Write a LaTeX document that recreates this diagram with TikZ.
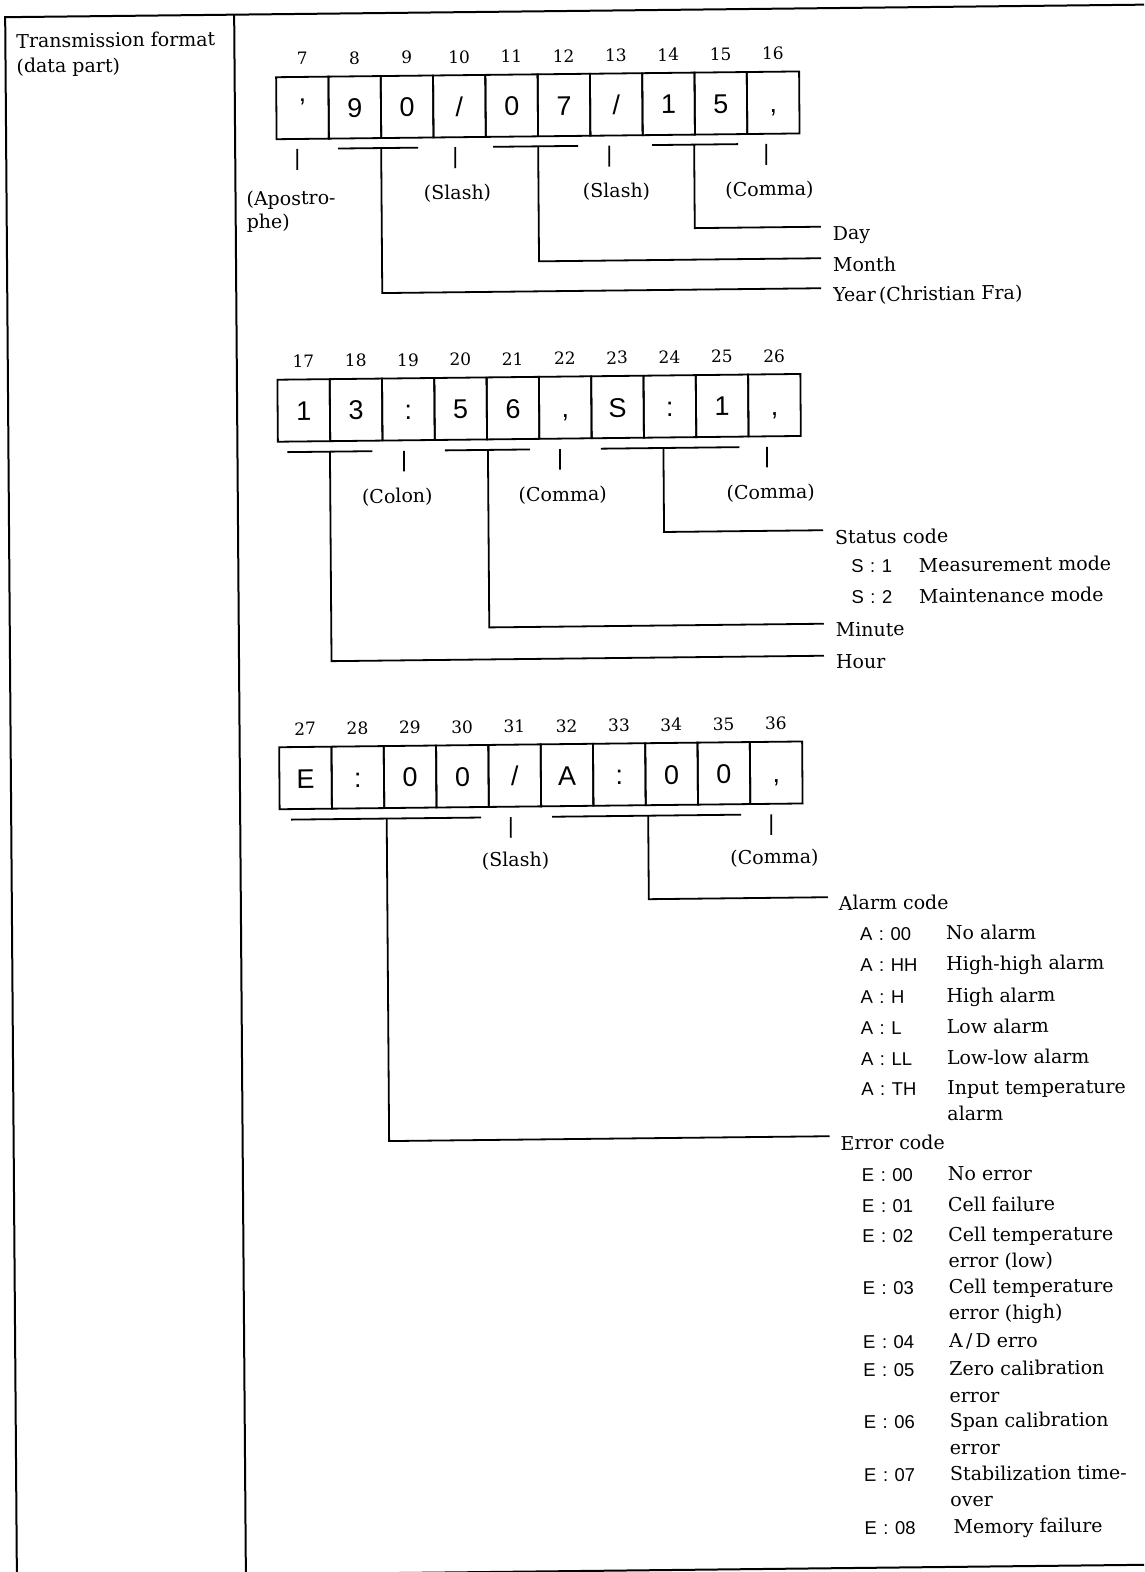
\documentclass[tikz,border=0pt]{standalone}
\usepackage{fontspec}
\setmainfont{DejaVu Serif}
\newfontfamily\sansbox{Liberation Sans}
\newcommand\cd[2]{{\sansbox\fontsize{18.5}{20}\selectfont #1\hspace{6.5pt}:\hspace{6.5pt}#2}}
\begin{document}
\begin{tikzpicture}[x=1pt,y=-1pt,
  every node/.style={inner sep=0pt, outer sep=0pt},
  body/.style={font=\fontsize{19}{24}\selectfont},
  lbl/.style={body, anchor=base},
  lft/.style={body, anchor=base west},
  posn/.style={font=\fontsize{17}{20}\selectfont, anchor=base},
  cell/.style={draw, line width=1.8pt, minimum width=52.3pt, minimum height=62pt, anchor=north west},
  ch/.style={font=\sansbox\fontsize{27}{30}\selectfont, anchor=base},
  cde/.style={anchor=base west},
  ln/.style={line width=1.8pt},
  frm/.style={line width=2pt},
]
\useasboundingbox (0,0) rectangle (1144,1572);
\clip (0,0) rectangle (1144,1572);
\begin{scope}[xshift=-5.9pt, yshift=-6.3pt, xslant=-0.0075, yslant=0.011,
  every node/.append style={transform shape}]
% frame
\coordinate (TL) at (11,11); \coordinate (TR) at (1175,11);
\coordinate (BL) at (11,1595);
\coordinate (MT) at (240,11); \coordinate (MB) at (240,1595);
\coordinate (BotL) at (388,1571); \coordinate (BotR) at (1175,1571);
\draw[frm] (BL) -- (TL) -- (TR);
\draw[frm] (MT) -- (MB);
\draw[frm] (BotL) -- (BotR);
\node[lft] (title1) at (22,42) {Transmission format};
\node[lft] (title2) at (22,67) {(data part)};

% ---------- row 1 ----------
\foreach \n/\c [count=\k from 0] in {7/{’},8/9,9/0,10/{/},11/0,12/7,13/{/},14/1,15/5,16/{,}} {
  \node[cell] (c\n) at ({281.5+52.3*\k},74) {};
  \node[posn] (n\n) at ({281.5+52.3*(\k+0.5)},62) {\n};
  \node[ch] (t\n) at ({281.5+52.3*(\k+0.5)},115) {\c};
}
\foreach \nm/\a/\b in {b89/343/423, b1112/498/583, b1415/657/743}{
  \coordinate (\nm-L) at (\a,146); \coordinate (\nm-R) at (\b,146);
  \draw[ln] (\nm-L) -- (\nm-R);
}
\foreach \nm/\x in {k7/302, k10/460, k13/614, k16/771}{
  \coordinate (\nm-T) at (\x,146); \coordinate (\nm-B) at (\x,167);
  \draw[ln] (\nm-T) -- (\nm-B);
}
\node[body, anchor=base west] (apo1) at (251,202) {(Apostro-};
\node[body, anchor=base west] (apo2) at (251,225) {phe)};
\node[lbl] (sl1) at (462,198) {(Slash)};
\node[lbl] (sl2) at (621,198) {(Slash)};
\node[lbl] (cm1) at (774,198) {(Comma)};
\coordinate (dayV) at (699,146); \coordinate (dayE) at (825,229.5);
\coordinate (monV) at (543,146); \coordinate (monE) at (825,261);
\coordinate (yeaV) at (386,146); \coordinate (yeaE) at (825,291);
\draw[ln] (dayV) |- (dayE);
\draw[ln] (monV) |- (monE);
\draw[ln] (yeaV) |- (yeaE);
\node[lft] (day) at (837,243) {Day};
\node[lft] (month) at (837,274.5) {Month};
\node[lft] (year) at (837,304.5) {Year\,(Christian Fra)};

% ---------- row 2 ----------
\foreach \n/\c [count=\k from 0] in {17/1,18/3,19/:,20/5,21/6,22/{,},23/S,24/:,25/1,26/{,}} {
  \node[cell] (c\n) at ({280.5+52.3*\k},376.5) {};
  \node[posn] (n\n) at ({280.5+52.3*(\k+0.5)},364.5) {\n};
  \node[ch] (t\n) at ({280.5+52.3*(\k+0.5)},417.5) {\c};
}
\foreach \nm/\a/\b in {b1718/290/375, b2021/447.5/532.5, b2325/603.5/742}{
  \coordinate (\nm-L) at (\a,449); \coordinate (\nm-R) at (\b,449);
  \draw[ln] (\nm-L) -- (\nm-R);
}
\foreach \nm/\x in {k19/406.5, k22/562.5, k26/769.5}{
  \coordinate (\nm-T) at (\x,449); \coordinate (\nm-B) at (\x,469.5);
  \draw[ln] (\nm-T) -- (\nm-B);
}
\node[lbl] (colon) at (399.5,501) {(Colon)};
\node[lbl] (cm2) at (565,501) {(Comma)};
\node[lbl] (cm3) at (773,501) {(Comma)};
\coordinate (staV) at (666,449); \coordinate (staE) at (825,533);
\coordinate (minV) at (490.5,449); \coordinate (minE) at (825,626.5);
\coordinate (houV) at (332.5,449); \coordinate (houE) at (825,658.5);
\draw[ln] (staV) |- (staE);
\draw[ln] (minV) |- (minE);
\draw[ln] (houV) |- (houE);
\node[lft] (status) at (837,547) {Status code};
\node[cde] (s1c) at (853,576) {\cd{S}{1}};
\node[lft] (s1d) at (920.5,576) {Measurement mode};
\node[cde] (s2c) at (853,607) {\cd{S}{2}};
\node[lft] (s2d) at (920.5,607) {Maintenance mode};
\node[lft] (minute) at (837,639.5) {Minute};
\node[lft] (hour) at (837,671.5) {Hour};

% ---------- row 3 ----------
\foreach \n/\c [count=\k from 0] in {27/E,28/:,29/0,30/0,31/{/},32/A,33/:,34/0,35/0,36/{,}} {
  \node[cell] (c\n) at ({279.5+52.3*\k},744) {};
  \node[posn] (n\n) at ({279.5+52.3*(\k+0.5)},732) {\n};
  \node[ch] (t\n) at ({279.5+52.3*(\k+0.5)},785) {\c};
}
\foreach \nm/\a/\b in {b2730/291/481, b3235/552/741}{
  \coordinate (\nm-L) at (\a,816.5); \coordinate (\nm-R) at (\b,816.5);
  \draw[ln] (\nm-L) -- (\nm-R);
}
\foreach \nm/\x in {k31/510.5, k36/771}{
  \coordinate (\nm-T) at (\x,816.5); \coordinate (\nm-B) at (\x,837);
  \draw[ln] (\nm-T) -- (\nm-B);
}
\node[lbl] (sl3) at (515,866) {(Slash)};
\node[lbl] (cm4) at (774,866) {(Comma)};
\coordinate (alaV) at (648,816.5); \coordinate (alaE) at (827,900);
\coordinate (errV) at (386.5,816.5); \coordinate (errE) at (827,1139);
\draw[ln] (alaV) |- (alaE);
\draw[ln] (errV) |- (errE);
\node[lft] (alarm) at (838,913) {Alarm code};
\foreach \c/\d/\y [count=\i] in {00/{No alarm}/944, HH/{High-high alarm}/975, H/{High alarm}/1007,
    L/{Low alarm}/1038, LL/{Low-low alarm}/1069, TH/{Input temperature}/1099}{
  \node[cde] (ac\i) at (859,\y) {\cd{A}{\c}};
  \node[lft] (ad\i) at (945,\y) {\d};
}
\node[lft] (ad6b) at (945,1125) {alarm};
\node[lft] (error) at (838,1153) {Error code};
\foreach \c/\d/\y [count=\i] in {00/{No error}/1185, 01/{Cell failure}/1216, 02/{Cell temperature}/1246,
    03/{Cell temperature}/1298, 04/{A\,/\,D erro}/1352, 05/{Zero calibration}/1380,
    06/{Span calibration}/1432, 07/{Stabilization time-}/1485}{
  \node[cde] (ec\i) at (859,\y) {\cd{E}{\c}};
  \node[lft] (ed\i) at (945,\y) {\d};
}
\node[lft] (ed3b) at (945,1272) {error (low)};
\node[lft] (ed4b) at (945,1324) {error (high)};
\node[lft] (ed6b) at (945,1407) {error};
\node[lft] (ed7b) at (945,1459) {error};
\node[lft] (ed8b) at (945,1511) {over};
\node[cde] (ec9) at (859,1538) {\cd{E}{08}};
\node[lft] (ed9) at (948,1538) {Memory failure};
\end{scope}
\end{tikzpicture}
\end{document}
